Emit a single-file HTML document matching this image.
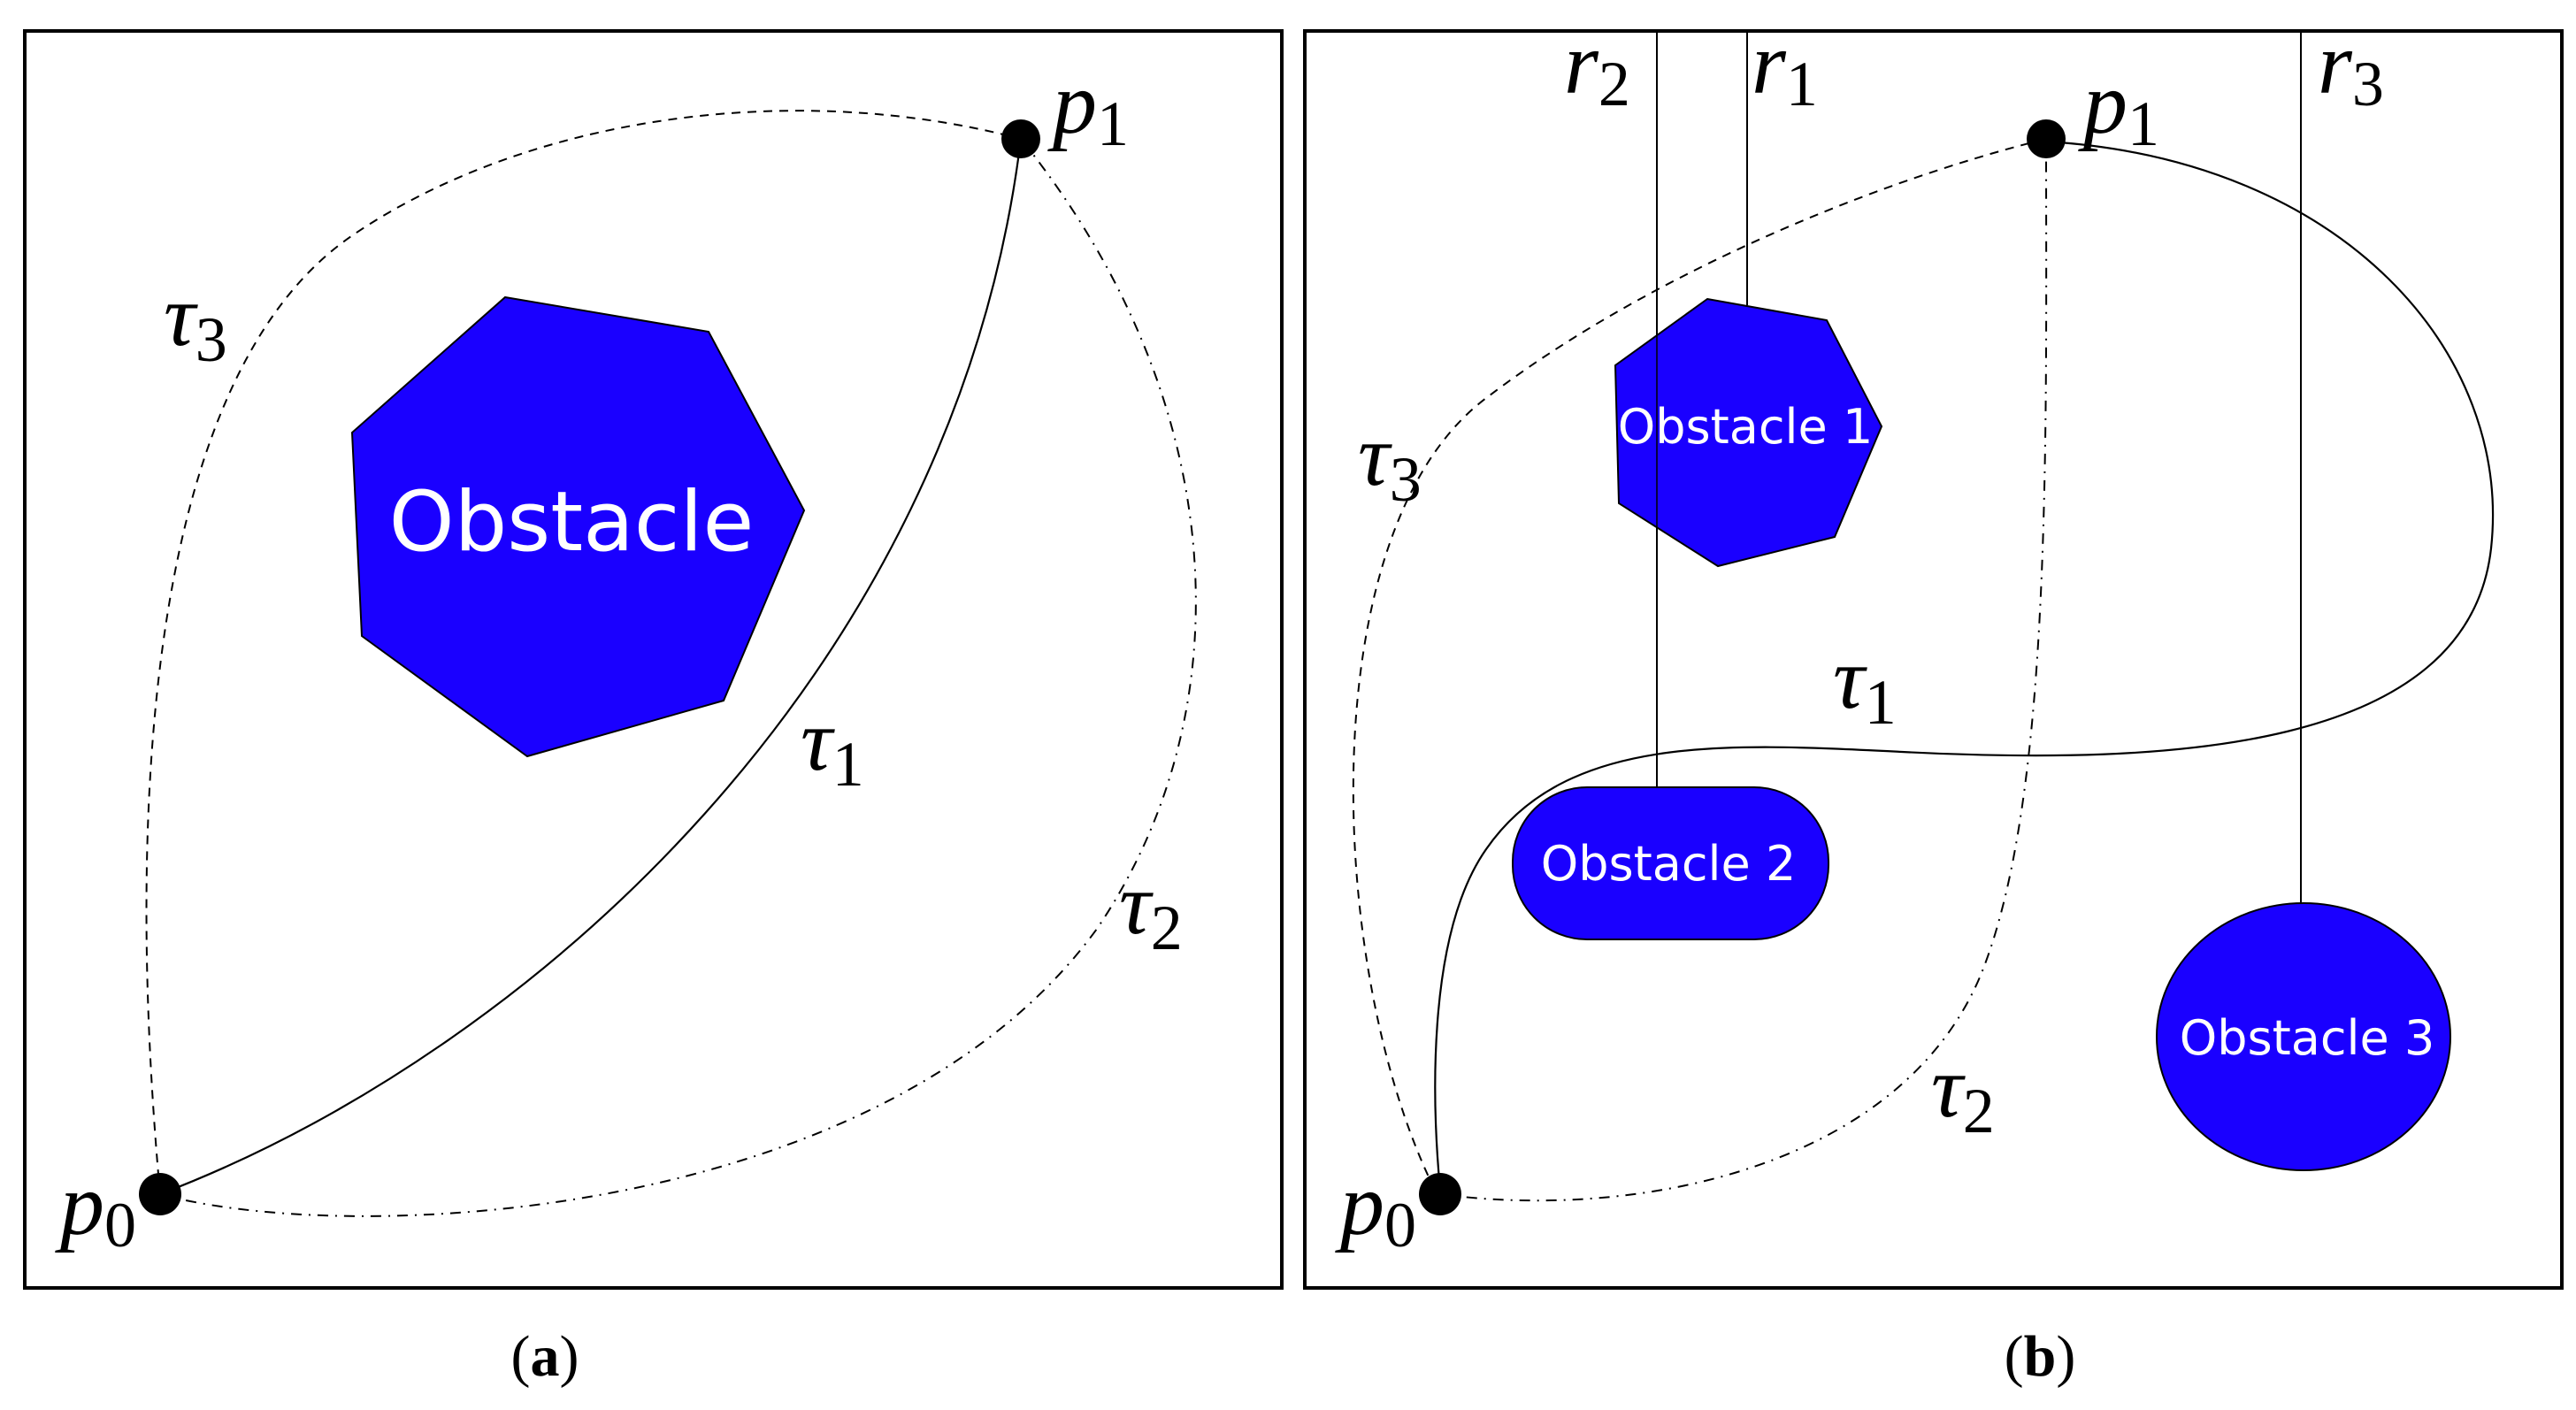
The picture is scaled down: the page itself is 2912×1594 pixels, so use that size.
<!DOCTYPE html>
<html><head><meta charset="utf-8"><style>
html,body{margin:0;padding:0;background:#fff;}
svg{display:block;}
.m{font-family:"Liberation Serif",serif;font-style:italic;font-size:100px;fill:#000;}
.s{font-style:normal;font-size:72px;}
.o{font-family:"DejaVu Sans","Liberation Sans",sans-serif;fill:#fff;}
</style></head><body>
<svg width="2912" height="1594" viewBox="0 0 2912 1594" xmlns="http://www.w3.org/2000/svg">
<rect x="0" y="0" width="2912" height="1594" fill="#fff"/>
<!-- panel a -->
<rect x="28" y="35" width="1421" height="1421" fill="none" stroke="#000" stroke-width="4"/>
<polygon points="571,336 801,375 909,577 818,792 596,855 409,719 398,489" fill="#1a00ff" stroke="#000" stroke-width="2"/>
<text x="646" y="622" class="o" font-size="94" text-anchor="middle">Obstacle</text>
<path d="M181,1350 C 600,1190 1080,760 1154,157" fill="none" stroke="#000" stroke-width="2.2"/>
<path d="M181,1350 C 140,900 170,420 400,265 C 600,130 900,90 1154,157" fill="none" stroke="#000" stroke-width="2" stroke-dasharray="10,8"/>
<path d="M181,1350 C 400,1410 1000,1380 1240,1050 C 1410,800 1390,450 1154,157" fill="none" stroke="#000" stroke-width="2" stroke-dasharray="12,8,2,8"/>
<circle cx="1154" cy="157" r="22" fill="#000"/>
<circle cx="181" cy="1350" r="24" fill="#000"/>
<text x="1190" y="150" class="m">p<tspan class="s" dy="14">1</tspan></text>
<text x="68" y="1395" class="m">p<tspan class="s" dy="14">0</tspan></text>
<text x="185" y="390" class="m">τ<tspan class="s" dy="18">3</tspan></text>
<text x="905" y="870" class="m">τ<tspan class="s" dy="18">1</tspan></text>
<text x="1265" y="1055" class="m">τ<tspan class="s" dy="18">2</tspan></text>
<text x="616" y="1555" font-family="Liberation Serif,serif" font-size="66" text-anchor="middle">(<tspan font-weight="bold">a</tspan>)</text>
<!-- panel b -->
<rect x="1475" y="35" width="1421" height="1421" fill="none" stroke="#000" stroke-width="4"/>
<line x1="1873" y1="35" x2="1873" y2="890" stroke="#000" stroke-width="2"/>
<line x1="1975" y1="35" x2="1975" y2="345" stroke="#000" stroke-width="2"/>
<line x1="2601" y1="35" x2="2601" y2="1023" stroke="#000" stroke-width="2"/>
<polygon points="1930,338 2065,362 2127,482 2074,607 1942,640 1830,569 1826,413" fill="#1a00ff" stroke="#000" stroke-width="2"/>
<line x1="1873" y1="380" x2="1873" y2="640" stroke="#000" stroke-width="1.5"/>
<rect x="1710" y="890" width="357" height="172" rx="84" ry="84" fill="#1a00ff" stroke="#000" stroke-width="2"/>
<ellipse cx="2604" cy="1172" rx="166" ry="151" fill="#1a00ff" stroke="#000" stroke-width="2"/>
<text x="1973" y="501" class="o" font-size="54" text-anchor="middle">Obstacle 1</text>
<text x="1886" y="995" class="o" font-size="54" text-anchor="middle">Obstacle 2</text>
<text x="2608" y="1192" class="o" font-size="54" text-anchor="middle">Obstacle 3</text>
<path d="M2313,160 C 2650,180 2840,400 2816,620 C 2790,850 2450,865 2150,850 C 1950,840 1770,830 1680,960 C 1610,1060 1620,1260 1628,1345" fill="none" stroke="#000" stroke-width="2.2"/>
<path d="M1622,1345 C 1500,1100 1480,600 1680,450 C 1850,320 2100,210 2313,157" fill="none" stroke="#000" stroke-width="2" stroke-dasharray="10,8"/>
<path d="M1628,1350 C 1850,1380 2150,1320 2240,1100 C 2320,900 2313,500 2313,157" fill="none" stroke="#000" stroke-width="2" stroke-dasharray="12,8,2,8"/>
<circle cx="2313" cy="157" r="22" fill="#000"/>
<circle cx="1628" cy="1350" r="24" fill="#000"/>
<text x="1768" y="105" class="m">r<tspan class="s" dy="14">2</tspan></text>
<text x="1980" y="105" class="m">r<tspan class="s" dy="14">1</tspan></text>
<text x="2620" y="105" class="m">r<tspan class="s" dy="14">3</tspan></text>
<text x="2355" y="150" class="m">p<tspan class="s" dy="14">1</tspan></text>
<text x="1515" y="1395" class="m">p<tspan class="s" dy="14">0</tspan></text>
<text x="1535" y="548" class="m">τ<tspan class="s" dy="18">3</tspan></text>
<text x="2072" y="800" class="m">τ<tspan class="s" dy="18">1</tspan></text>
<text x="2183" y="1262" class="m">τ<tspan class="s" dy="18">2</tspan></text>
<text x="2306" y="1555" font-family="Liberation Serif,serif" font-size="66" text-anchor="middle">(<tspan font-weight="bold">b</tspan>)</text>
</svg>
</body></html>
